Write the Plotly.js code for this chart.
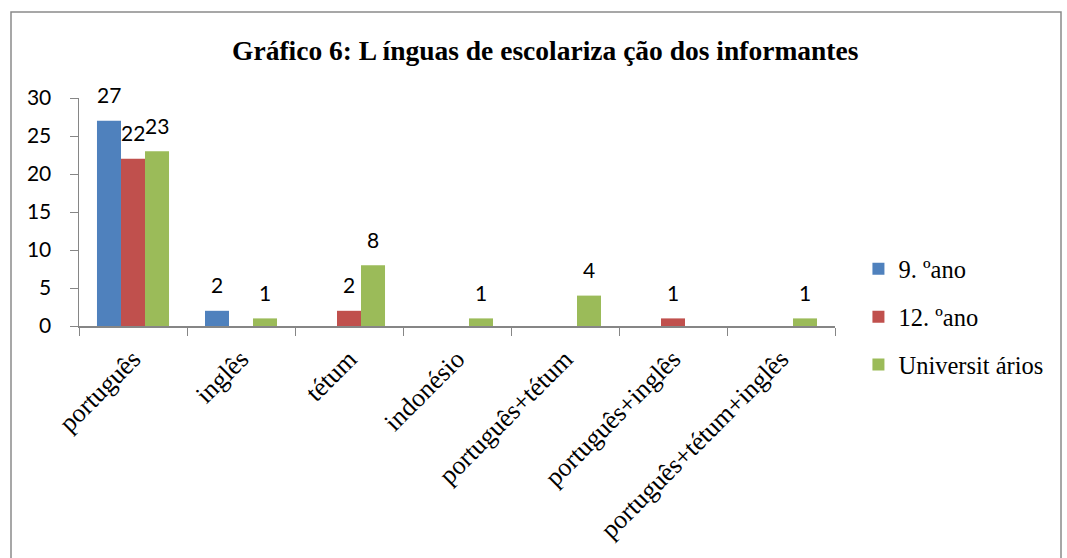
<!DOCTYPE html>
<html><head><meta charset="utf-8">
<script src="https://cdn.plot.ly/plotly-3.0.1.min.js"></script>
<style>body{margin:0;background:#fff}#c{width:1067px;height:558px}</style>
</head><body><div id="c"></div>
<script>
const categories = ["português","inglês","tétum","indonésio","português+tétum","português+inglês","português+tétum+inglês"];
const seriesNames = ["9. ºano","12. ºano","Universit ários"];
const ano9 = [27,2,0,0,0,0,0];
const ano12 = [22,0,2,0,0,1,0];
const univ = [23,1,8,1,4,0,1];
const yTicks = [0,5,10,15,20,25,30];

const colors = ["#4F81BD","#C0504D","#9BBB59"];
const series = [ano9, ano12, univ];
const traces = series.map((vals,i)=>({
  type:'bar', x:categories, y:vals, name:seriesNames[i],
  marker:{color:colors[i]}, legendgroup:'g'+i, hoverinfo:'skip'
}));
const bw = (1-0.333)/3;
const annotations = [];
series.forEach((vals,i)=>{
  vals.forEach((v,j)=>{
    if(v>0) annotations.push({x:j+(i-1)*bw, y:v, xref:'x', yref:'y', text:String(v),
      showarrow:false, yanchor:'middle', yshift:26,
      font:{family:'Lato, "Liberation Sans", sans-serif', size:21, color:'#000'}});
  });
});
const layout = {
  width:1067, height:558,
  margin:{l:79, r:232, t:98, b:232},
  paper_bgcolor:'#fff', plot_bgcolor:'#fff',
  barmode:'group', bargap:0.333, bargroupgap:0,
  title:{text:'<b>Gráfico 6: L ínguas de escolariza ção dos informantes</b>', x:0.511, xanchor:'center', y:0.91, yanchor:'middle',
    font:{family:'"Liberation Serif", "Times New Roman", serif', size:27.5, color:'#000'}},
  xaxis:{type:'category', showline:true, linecolor:'#868686', linewidth:1.5, ticks:'outside', tickson:'boundaries',
    ticklen:8, tickcolor:'#868686', tickangle:-45, showgrid:false, ticklabelstandoff:6,
    tickfont:{family:'"Liberation Serif", "Times New Roman", serif', size:26, color:'#000'}},
  yaxis:{range:[0,30], tickvals:yTicks, showline:true, linecolor:'#868686', linewidth:1.5, ticks:'outside',
    ticklen:8, tickcolor:'#868686', showgrid:false, zeroline:false, ticklabelstandoff:14,
    tickfont:{family:'Lato, "Liberation Sans", sans-serif', size:21, color:'#000'}},
  legend:{x:1.031, xanchor:'left', y:0.04, yanchor:'middle', tracegroupgap:13, itemwidth:30,
    font:{family:'"Liberation Serif", "Times New Roman", serif', size:24.5, color:'#000'}},
  showlegend:true,
  annotations:annotations,
  shapes:[{type:'rect', xref:'paper', yref:'paper',
    x0:(11-79)/756, x1:(1061-79)/756, y0:(326-580)/228, y1:(326-12)/228,
    line:{color:'#8a8a8a', width:1.5}, fillcolor:'rgba(0,0,0,0)', layer:'below'}]
};
Plotly.newPlot('c', traces, layout, {displayModeBar:false, staticPlot:true});
</script></body></html>
